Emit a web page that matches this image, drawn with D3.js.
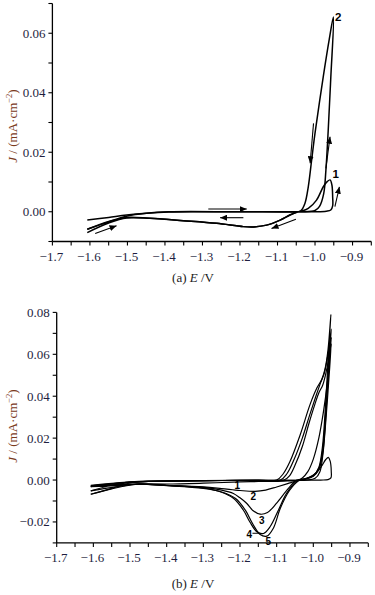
<!DOCTYPE html>
<html lang="en">
<head>
<meta charset="UTF-8">
<title>CV curves</title>
<script src="https://d3js.org/d3.v7.min.js"></script>
<style>
  body { margin: 0; background: #fff; }
  svg { display: block; }
</style>
</head>
<body>
<svg width="375" height="595"></svg>
<script>
// ---- data: [E (V), J (mA/cm2)] ----
// panel (a)
var aCycle1 = [[-1.607,-0.0028],[-1.55,-0.0019],[-1.502,-0.0011],[-1.449,-0.0005],[-1.39,-0.0001],[-1.3,0],[-1.1,0],[-1.0,0],
  [-0.97,0.0002],[-0.958,0.0006],[-0.953,0.002],[-0.953,0.005],[-0.955,0.009],[-0.96,0.0107],[-0.967,0.0102],[-0.978,0.0084],
  [-0.996,0.0039],[-1.018,0.0011],[-1.036,0.0002],[-1.045,0],[-1.067,-0.0011],[-1.093,-0.0028],[-1.129,-0.0045],[-1.164,-0.0051],
  [-1.191,-0.005],[-1.262,-0.0039],[-1.351,-0.003],[-1.44,-0.0022],[-1.502,-0.0019],[-1.55,-0.0034],[-1.607,-0.0059]];
var aCycle2 = [[-1.607,-0.0059],[-1.55,-0.0033],[-1.5,-0.0014],[-1.45,-0.0005],[-1.39,0],[-1.2,0],[-1.04,0],[-1.0,0.0004],
  [-0.988,0.0018],[-0.977,0.006],[-0.971,0.014],[-0.965,0.027],[-0.958,0.045],[-0.951,0.0655],
  [-0.962,0.058],[-0.978,0.0454],[-1.0,0.0264],[-1.009,0.0174],[-1.018,0.0084],[-1.027,0.0028],[-1.038,0.0003],[-1.045,0],
  [-1.067,-0.0011],[-1.093,-0.0028],[-1.129,-0.0045],[-1.164,-0.0051],[-1.191,-0.005],[-1.262,-0.0039],[-1.351,-0.003],
  [-1.44,-0.0022],[-1.502,-0.0021],[-1.55,-0.0038],[-1.607,-0.007]];
var aArrows = [[[-1.2845,0.0009],[-1.182,0.0009]],[[-1.191,-0.002],[-1.253,-0.002]],[[-1.051,-0.0025],[-1.116,-0.0056]],
  [[-1.586,-0.0073],[-1.529,-0.0047]],[[-1.004,0.0297],[-1.013,0.0163]],[[-0.971,0.0146],[-0.96,0.0252]],[[-0.947,0.0017],[-0.935,0.0084]]];
var aLabels = [["2",-0.938,0.0653],["1",-0.945,0.0127]];

// panel (b)
var bCycle1 = [[-1.607,-0.0025],[-1.55,-0.0016],[-1.5,-0.0009],[-1.45,-0.0005],[-1.35,-0.0003],[-1.2,-0.0002],[-1.05,-0.0001],
  [-0.98,0],[-0.96,0.0002],[-0.952,0.001],[-0.951,0.004],[-0.954,0.009],[-0.959,0.0108],[-0.966,0.0098],[-0.978,0.0065],
  [-0.995,0.003],[-1.015,0.001],[-1.035,0],[-1.08,-0.0005],[-1.15,-0.0007],[-1.2,-0.0009],[-1.3,-0.0015],[-1.4,-0.0019],
  [-1.48,-0.0018],[-1.54,-0.0022],[-1.607,-0.0028]];
var bCycle2 = [[-1.607,-0.0028],[-1.55,-0.0017],[-1.5,-0.001],[-1.45,-0.0006],[-1.3,-0.0003],[-1.1,-0.0001],[-1.02,0],
  [-0.995,0.0008],[-0.982,0.004],[-0.974,0.012],[-0.966,0.028],[-0.958,0.047],[-0.951,0.065],
  [-0.955,0.058],[-0.962,0.046],[-0.972,0.033],[-0.985,0.02],[-1.0,0.01],[-1.015,0.004],[-1.03,0.001],[-1.04,0],
  [-1.07,-0.0017],[-1.1,-0.0033],[-1.13,-0.0048],[-1.159,-0.0054],[-1.2,-0.005],[-1.25,-0.0041],[-1.3,-0.0033],
  [-1.4,-0.0025],[-1.48,-0.002],[-1.54,-0.0033],[-1.607,-0.0052]];
var bCycle3 = [[-1.607,-0.0052],[-1.55,-0.0025],[-1.5,-0.0012],[-1.45,-0.0006],[-1.3,-0.0003],[-1.15,-0.0001],[-1.08,0],
  [-1.065,0.002],[-1.05,0.007],[-1.03,0.016],[-1.012,0.027],[-0.996,0.036],[-0.984,0.042],[-0.975,0.045],[-0.967,0.05],
  [-0.958,0.058],[-0.951,0.068],
  [-0.955,0.06],[-0.962,0.042],[-0.968,0.025],[-0.975,0.012],[-0.985,0.005],[-1.0,0.0018],[-1.02,0.0005],[-1.045,0],
  [-1.068,-0.004],[-1.1,-0.011],[-1.125,-0.0155],[-1.145,-0.0163],[-1.165,-0.0145],[-1.182,-0.0111],[-1.2,-0.0085],
  [-1.218,-0.0064],[-1.25,-0.0048],[-1.3,-0.0035],[-1.4,-0.0025],[-1.48,-0.002],[-1.54,-0.0027],[-1.607,-0.0032]];
var bCycle4 = [[-1.607,-0.0032],[-1.55,-0.0019],[-1.5,-0.001],[-1.45,-0.0006],[-1.3,-0.0003],[-1.15,-0.0001],[-1.09,0],
  [-1.072,0.003],[-1.052,0.01],[-1.03,0.02],[-1.01,0.031],[-0.993,0.04],[-0.98,0.0465],[-0.97,0.051],[-0.96,0.06],[-0.951,0.072],
  [-0.955,0.063],[-0.961,0.046],[-0.967,0.03],[-0.974,0.015],[-0.984,0.006],[-1.0,0.0022],[-1.025,0.0006],[-1.045,-0.0005],
  [-1.073,-0.0064],[-1.095,-0.0143],[-1.118,-0.0223],[-1.136,-0.0255],[-1.154,-0.0247],[-1.173,-0.02],[-1.191,-0.0143],
  [-1.218,-0.0087],[-1.254,-0.0056],[-1.3,-0.0038],[-1.4,-0.0026],[-1.48,-0.002],[-1.55,-0.0042],[-1.607,-0.0068]];
var bCycle5 = [[-1.607,-0.0068],[-1.55,-0.004],[-1.5,-0.0014],[-1.45,-0.0007],[-1.3,-0.0003],[-1.15,-0.0001],[-1.1,0],
  [-1.082,0.003],[-1.064,0.0087],[-1.036,0.0215],[-1.009,0.036],[-0.99,0.044],[-0.977,0.048],[-0.968,0.053],[-0.96,0.062],[-0.952,0.079],
  [-0.956,0.068],[-0.962,0.05],[-0.968,0.032],[-0.975,0.016],[-0.985,0.006],[-1.0,0.002],[-1.02,0.0006],[-1.04,-0.0003],
  [-1.065,-0.005],[-1.09,-0.0135],[-1.109,-0.023],[-1.127,-0.0268],[-1.145,-0.026],[-1.165,-0.021],[-1.185,-0.0145],
  [-1.212,-0.0088],[-1.25,-0.0057],[-1.3,-0.004],[-1.4,-0.0027],[-1.48,-0.002],[-1.54,-0.0025],[-1.607,-0.003]];
var bLabels = [["1",-1.2074,-0.0027],["2",-1.1637,-0.008],["3",-1.1408,-0.0194],["4",-1.1746,-0.0258],["5",-1.1228,-0.0291]];
var bLeader = [[-1.166,-0.0254],[-1.146,-0.0254]];

var xTicks = [-1.7,-1.6,-1.5,-1.4,-1.3,-1.2,-1.1,-1.0,-0.9];
var aYTicks = [0,0.02,0.04,0.06];
var bYTicks = [-0.02,0,0.02,0.04,0.06,0.08];

var svg = d3.select('svg');
var tickColor = '#1e1e40';
var titleColor = '#7a3a1c';
var serif = 'Liberation Serif, Times New Roman, serif';

svg.append('defs').append('marker')
  .attr('id','arr').attr('markerUnits','userSpaceOnUse')
  .attr('markerWidth',8).attr('markerHeight',6)
  .attr('refX',7).attr('refY',3).attr('orient','auto')
  .append('path').attr('d','M0,0 L7,3 L0,6 Z').attr('fill','#000');

function panel(cfg){
  var x = d3.scaleLinear().domain([-1.7,-0.85]).range(cfg.xr);
  var y = d3.scaleLinear().domain(cfg.yd).range(cfg.yr);
  var g = svg.append('g');
  var x0 = cfg.xr[0], y0 = cfg.yr[0];

  // minor ticks
  var xMinor = d3.range(-1.7,-0.849,0.05);
  g.selectAll('.xt').data(xMinor).enter().append('line')
    .attr('x1',function(d){return x(d);}).attr('x2',function(d){return x(d);})
    .attr('y1',y0).attr('y2',y0+4).attr('stroke','#000').attr('stroke-width',1.1);
  var yMinor = d3.range(cfg.yd[0], cfg.yd[1]+0.0001, 0.01);
  g.selectAll('.yt').data(yMinor).enter().append('line')
    .attr('x1',x0-4).attr('x2',x0)
    .attr('y1',function(d){return y(d);}).attr('y2',function(d){return y(d);})
    .attr('stroke','#000').attr('stroke-width',1.1);

  // axis lines
  g.append('line').attr('x1',x0).attr('x2',cfg.xr[1]).attr('y1',y0).attr('y2',y0)
    .attr('stroke','#000').attr('stroke-width',1.3);
  g.append('line').attr('x1',x0).attr('x2',x0).attr('y1',y0).attr('y2',cfg.yr[1])
    .attr('stroke','#000').attr('stroke-width',1.3);

  var fx = d3.format('.1f'), fy = d3.format('.2f');
  g.selectAll('.xl').data(xTicks).enter().append('text')
    .attr('x',function(d){return x(d)-1;}).attr('y',y0+19.5)
    .attr('text-anchor','middle').attr('font-family',serif).attr('font-size',13)
    .attr('fill',tickColor).text(function(d){return fx(d);});
  g.selectAll('.yl').data(cfg.yTicks).enter().append('text')
    .attr('x',x0-7).attr('y',function(d){return y(d)+4.5;})
    .attr('text-anchor','end').attr('font-family',serif).attr('font-size',13)
    .attr('fill',tickColor).text(function(d){return fy(d);});

  // y title
  var yt = g.append('text')
    .attr('transform','translate(17,'+cfg.titleY+') rotate(-90)')
    .attr('text-anchor','middle').attr('font-family',serif).attr('font-size',13)
    .attr('fill',titleColor);
  yt.append('tspan').attr('font-style','italic').text('J');
  yt.append('tspan').text(' / (mA·cm');
  yt.append('tspan').attr('font-size',8.5).attr('baseline-shift','super').text('−2');
  yt.append('tspan').text(')');

  // caption
  var cap = g.append('text').attr('x',193).attr('y',cfg.capY)
    .attr('text-anchor','middle').attr('font-family',serif).attr('font-size',13).attr('fill','#222');
  cap.append('tspan').text(cfg.tag+' ');
  cap.append('tspan').attr('font-style','italic').text('E');
  cap.append('tspan').text(' /V');

  var line = d3.line().x(function(d){return x(d[0]);}).y(function(d){return y(d[1]);})
    .curve(d3.curveCatmullRom.alpha(0.5));
  g.selectAll('.cv').data(cfg.cycles).enter().append('path')
    .attr('d',line).attr('fill','none').attr('stroke','#000')
    .attr('stroke-width',cfg.sw).attr('stroke-linejoin','round');

  return {g:g,x:x,y:y};
}

var pa = panel({xr:[52.4,371.3], yd:[-0.01,0.07], yr:[241.5,3.5], yTicks:aYTicks,
  titleY:126, capY:282, tag:'(a)', cycles:[aCycle1,aCycle2], sw:1.5});
var pb = panel({xr:[56.7,368.3], yd:[-0.03,0.08], yr:[542.9,312.4], yTicks:bYTicks,
  titleY:426, capY:588, tag:'(b)', cycles:[bCycle1,bCycle2,bCycle3,bCycle4,bCycle5], sw:1.2});

// arrows (a)
pa.g.selectAll('.ar').data(aArrows).enter().append('line')
  .attr('x1',function(d){return pa.x(d[0][0]);}).attr('y1',function(d){return pa.y(d[0][1]);})
  .attr('x2',function(d){return pa.x(d[1][0]);}).attr('y2',function(d){return pa.y(d[1][1]);})
  .attr('stroke','#000').attr('stroke-width',1.1).attr('marker-end','url(#arr)');

pa.g.selectAll('.lb').data(aLabels).enter().append('text')
  .attr('x',function(d){return pa.x(d[1]);}).attr('y',function(d){return pa.y(d[2])+4;})
  .attr('text-anchor','middle').attr('font-family','Liberation Sans, Arial, sans-serif')
  .attr('font-weight','bold').attr('font-size',11.5).text(function(d){return d[0];});

pb.g.selectAll('.lb').data(bLabels).enter().append('text')
  .attr('x',function(d){return pb.x(d[1]);}).attr('y',function(d){return pb.y(d[2])+3.5;})
  .attr('text-anchor','middle').attr('font-family','Liberation Sans, Arial, sans-serif')
  .attr('font-weight','bold').attr('font-size',10).attr('fill','#000').text(function(d){return d[0];});
pb.g.append('line')
  .attr('x1',pb.x(bLeader[0][0])).attr('y1',pb.y(bLeader[0][1]))
  .attr('x2',pb.x(bLeader[1][0])).attr('y2',pb.y(bLeader[1][1]))
  .attr('stroke','#000').attr('stroke-width',1);
</script>
</body>
</html>
